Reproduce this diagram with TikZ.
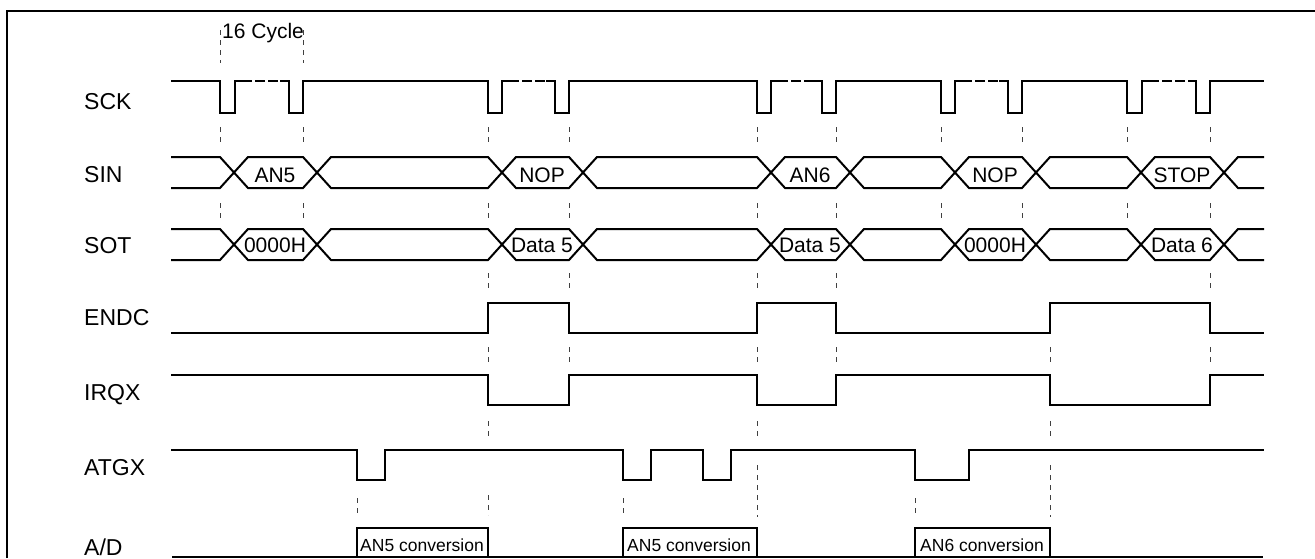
\documentclass[tikz,border=0pt]{standalone}
\usepackage{fontspec}
\setmainfont{Liberation Sans}
\newcommand{\busshape}[2]{(172,#1)--(220,#1)--(248,#2)--(303,#2)--(331,#1)--(488,#1)--(516,#2)--(569,#2)--(597,#1)--(757,#1)--(785,#2)--(836,#2)--(864,#1)--(941,#1)--(969,#2)--(1022,#2)--(1050,#1)--(1127,#1)--(1155,#2)--(1210,#2)--(1238,#1)--(1263,#1)}
\tikzset{
  sig/.style={line width=2pt, line join=miter, line cap=rect},
  guide/.style={line width=1pt, black!75, dash pattern=on 5pt off 5pt},
  frameline/.style={line width=1.5pt},
  signame/.style={anchor=base west, inner sep=0pt, font=\fontsize{23}{23}\selectfont},
  buslabel/.style={anchor=base, inner sep=0pt, font=\fontsize{21}{21}\selectfont},
  convlabel/.style={anchor=base, inner sep=0pt, font=\fontsize{17.5}{17.5}\selectfont},
}
\begin{document}
\begin{tikzpicture}[x=1pt,y=-1pt]
\useasboundingbox (0,0) rectangle (1315,558);
% frame
\draw[frameline] (7,558) -- (7,11) -- (1315,11);

% signal names
\node[signame] (lsck) at (84,109) {SCK};
\node[signame] (lsin) at (84,182) {SIN};
\node[signame] (lsot) at (84,253) {SOT};
\node[signame] (lendc) at (84,325) {ENDC};
\node[signame] (lirqx) at (84,400) {IRQX};
\node[signame] (latgx) at (84,475) {ATGX};
\node[signame] (lad) at (84,555) {A/D};

% 16 cycle
\node[anchor=base west, inner sep=0pt, font=\fontsize{21}{21}\selectfont] (cyc) at (222,38) {16 Cycle};

% guides
\foreach \x in {220,303} \draw[guide] (\x,30) -- (\x,63);
\foreach \x in {220,303,488,569,757,836,941,1022,1127,1210} {
  \draw[guide] (\x,127) -- (\x,146);
  \draw[guide] (\x,203) -- (\x,220);
}
\foreach \x in {488,569,757,836,1210} \draw[guide] (\x,273) -- (\x,292);
\foreach \x in {488,569,757,836,1050,1210} \draw[guide] (\x,347) -- (\x,365);
\foreach \x in {488,757,1050} \draw[guide] (\x,421) -- (\x,439);
\foreach \x in {357,623,915} \draw[guide] (\x,498) -- (\x,517);
\draw[guide] (488,495) -- (488,515);
\foreach \x in {757,1050} \draw[guide] (\x,465) -- (\x,517);

% SCK
\draw[sig] (172,81) -- (220,81) -- (220,113) -- (235,113) -- (235,81) -- (243,81);
\draw[sig, dash pattern=on 8pt off 5pt] (243,81) -- (281,81);
\draw[sig] (281,81) -- (289,81) -- (289,113) -- (303,113) -- (303,81) -- (488,81)
  -- (488,113) -- (502,113) -- (502,81) -- (510,81);
\draw[sig, dash pattern=on 8pt off 5pt] (510,81) -- (547,81);
\draw[sig] (547,81) -- (555,81) -- (555,113) -- (569,113) -- (569,81) -- (757,81)
  -- (757,113) -- (771,113) -- (771,81) -- (779,81);
\draw[sig, dash pattern=on 8pt off 5pt] (779,81) -- (814,81);
\draw[sig] (814,81) -- (822,81) -- (822,113) -- (836,113) -- (836,81) -- (941,81)
  -- (941,113) -- (955,113) -- (955,81) -- (963,81);
\draw[sig, dash pattern=on 8pt off 5pt] (963,81) -- (1000,81);
\draw[sig] (1000,81) -- (1008,81) -- (1008,113) -- (1022,113) -- (1022,81) -- (1127,81)
  -- (1127,113) -- (1142,113) -- (1142,81) -- (1150,81);
\draw[sig, dash pattern=on 8pt off 5pt] (1150,81) -- (1189,81);
\draw[sig] (1189,81) -- (1196,81) -- (1196,113) -- (1210,113) -- (1210,81) -- (1263,81);

% SIN bus
\draw[sig] \busshape{157}{188};
\draw[sig] \busshape{188}{157};
\node[buslabel] (an5) at (275,182) {AN5};
\node[buslabel] (nop1) at (542,182) {NOP};
\node[buslabel] (an6) at (810,182) {AN6};
\node[buslabel] (nop2) at (995,182) {NOP};
\node[buslabel] (stop) at (1182,182) {STOP};

% SOT bus
\draw[sig] \busshape{229}{260};
\draw[sig] \busshape{260}{229};
\node[buslabel] (d0a) at (275,252) {0000H};
\node[buslabel] (d5a) at (542,252) {Data 5};
\node[buslabel] (d5b) at (810,252) {Data 5};
\node[buslabel] (d0b) at (995,252) {0000H};
\node[buslabel] (d6) at (1182,252) {Data 6};

% ENDC
\draw[sig] (172,333) -- (488,333) -- (488,303) -- (569,303) -- (569,333) -- (757,333)
  -- (757,303) -- (836,303) -- (836,333) -- (1050,333) -- (1050,303) -- (1210,303)
  -- (1210,333) -- (1263,333);

% IRQX
\draw[sig] (172,375) -- (488,375) -- (488,405) -- (569,405) -- (569,375) -- (757,375)
  -- (757,405) -- (836,405) -- (836,375) -- (1050,375) -- (1050,405) -- (1210,405)
  -- (1210,375) -- (1263,375);

% ATGX
\draw[sig] (172,450) -- (357,450) -- (357,480) -- (385,480) -- (385,450) -- (623,450)
  -- (623,480) -- (651,480) -- (651,450) -- (703,450) -- (703,480) -- (731,480)
  -- (731,450) -- (915,450) -- (915,480) -- (969,480) -- (969,450) -- (1263,450);

% A/D
\draw[line width=1.5pt] (172,557) -- (1263,557);
\draw[sig] (357,557) -- (357,528) -- (488,528) -- (488,557);
\draw[sig] (623,557) -- (623,528) -- (757,528) -- (757,557);
\draw[sig] (915,557) -- (915,528) -- (1050,528) -- (1050,557);
\node[convlabel] (c1) at (422,551) {AN5 conversion};
\node[convlabel] (c2) at (689,551) {AN5 conversion};
\node[convlabel] (c3) at (982,551) {AN6 conversion};
\end{tikzpicture}
\end{document}
